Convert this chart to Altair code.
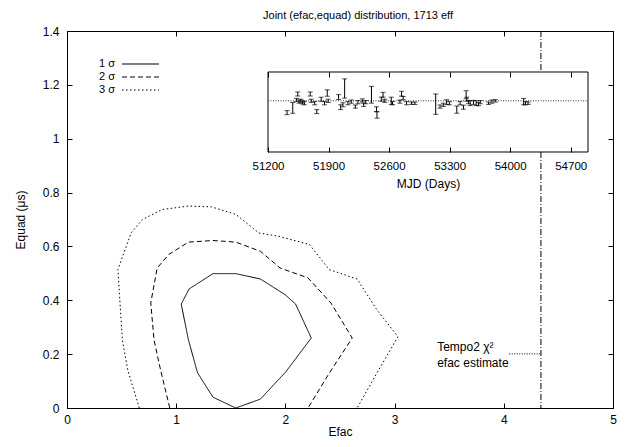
import altair as alt
import pandas as pd

FONT = "Liberation Sans"
TITLE = "Joint (efac,equad) distribution, 1713 eff"

# ---- main axes ----
X_TICKS = [0, 1, 2, 3, 4, 5]
Y_TICKS = [0, 0.2, 0.4, 0.6, 0.8, 1.0, 1.2, 1.4]
X_DOMAIN = [0, 5]
Y_DOMAIN = [0, 1.4]

# ---- contours (efac, equad) ----
c1_efac = [1.546, 1.771, 2.005, 2.237, 2.093, 1.997, 1.771, 1.546, 1.337, 1.118, 1.046, 1.112, 1.195, 1.337, 1.546]
c1_equad = [0.0, 0.033, 0.135, 0.26, 0.386, 0.421, 0.479, 0.499, 0.499, 0.442, 0.386, 0.253, 0.131, 0.04, 0.0]
c2_efac = [0.941, 0.857, 0.797, 0.767, 0.826, 0.932, 1.112, 1.337, 1.546, 1.771, 1.951, 2.207, 2.417, 2.612, 2.401, 2.207]
c2_equad = [0.0, 0.141, 0.253, 0.39, 0.52, 0.57, 0.616, 0.622, 0.616, 0.582, 0.52, 0.483, 0.39, 0.26, 0.129, 0.0]
c3_efac = [0.662, 0.556, 0.507, 0.466, 0.587, 0.691, 0.871, 1.112, 1.322, 1.546, 1.757, 1.937, 2.221, 2.401, 2.657, 2.837, 3.031, 2.837, 2.657]
c3_equad = [0.0, 0.141, 0.253, 0.514, 0.65, 0.7, 0.737, 0.75, 0.747, 0.719, 0.65, 0.638, 0.607, 0.514, 0.479, 0.365, 0.265, 0.129, 0.0]
LEVELS = ["1 σ", "2 σ", "3 σ"]
DASHES = [[1, 0], [5, 3], [1.5, 2.5]]

# ---- Tempo2 estimate ----
EFAC_ESTIMATE = 4.34
ANNOT_TEXT = "Tempo2 χ²\nefac estimate"
ANNOT_X, ANNOT_Y = 3.39, 0.227
CONNECT_X0, CONNECT_Y = 4.05, 0.201

# ---- inset: timing residuals ----
MJD_TICKS = [51200, 51900, 52600, 53300, 54000, 54700]
MJD_DOMAIN = [51200, 54900]
RES_DOMAIN = [-6.4, 3.6]
mjd = [51420, 51486, 51544, 51530, 51560, 51580, 51600, 51620, 51688, 51700, 51740, 51764,
       51815, 51853, 51885, 51895, 52016, 52040, 52066, 52086, 52124, 52163, 52210, 52240,
       52291, 52306, 52330, 52396, 52454, 52460, 52510, 52530, 52550, 52625, 52640, 52725,
       52744, 52763, 52802, 52860, 52899, 53139, 53189, 53227, 53266, 53297, 53383, 53421,
       53460, 53491, 53499, 53518, 53537, 53576, 53607, 53634, 53654, 53750, 53789, 53828,
       54156, 54176, 54207]
resid = [-1.48, -0.89, 0.85, 0.1, -0.1, 0.0, -0.2, -0.3, 0.85, 0.0, -0.3, -1.35,
         0.2, -0.3, 0.97, 0.0, 0.47, -0.8, -0.5, 1.54, -0.3, -0.1, -0.72, -0.17,
         0.04, -0.5, -0.17, 0.76, -1.05, -1.77, 0.2, 0.76, 0.0, 0.0, -0.3, -0.1,
         0.89, 0.34, -0.3, -0.3, -0.3, -0.42, -0.72, -0.5, -0.17, -0.3, -1.1, -0.3,
         -0.8, 0.76, 0.2, -0.17, -0.3, -0.2, -0.3, -0.42, -0.17, -0.3, -0.1, 0.0,
         -0.1, -0.3, -0.3]
err = [0.25, 0.67, 0.25, 0.2, 0.2, 0.2, 0.2, 0.2, 0.25, 0.2, 0.2, 0.25,
       0.25, 0.2, 0.4, 0.2, 0.3, 0.3, 0.25, 1.2, 0.2, 0.2, 0.2, 0.2,
       0.2, 0.2, 0.2, 1.05, 0.3, 0.4, 0.25, 0.3, 0.2, 0.45, 0.2, 0.2,
       0.3, 0.2, 0.2, 0.15, 0.15, 1.27, 0.2, 0.2, 0.3, 0.2, 0.45, 0.2,
       0.25, 0.5, 0.25, 0.2, 0.3, 0.25, 0.3, 0.2, 0.2, 0.15, 0.2, 0.15,
       0.4, 0.2, 0.15]

# ---- layout ----
W, H = 546, 377
INSET_X_RANGE = [201, 521]
INSET_Y_RANGE = [121, 41]
INWARD = {"expr": "-5"}

cont_rows = []
for lvl, xs, ys in zip(LEVELS, [c1_efac, c2_efac, c3_efac], [c1_equad, c2_equad, c3_equad]):
    for i, (a, b) in enumerate(zip(xs, ys)):
        cont_rows.append({"level": lvl, "i": i, "efac": a, "equad": b})
cont_df = pd.DataFrame(cont_rows)

res_df = pd.DataFrame({"mjd": mjd, "resid": resid, "err": err})
res_df["lo"] = res_df["resid"] - res_df["err"]
res_df["hi"] = res_df["resid"] + res_df["err"]

common = dict(grid=False, labelFont=FONT, titleFont=FONT, labelFontSize=12, titleFontSize=12,
              titleFontWeight="normal", tickColor="black", domainColor="black",
              labelColor="black", titleColor="black", tickSize=INWARD)

xscale = alt.Scale(domain=X_DOMAIN, nice=False, zero=False)
yscale = alt.Scale(domain=Y_DOMAIN, nice=False, zero=False)

contours = alt.Chart(cont_df).mark_line(color="black", strokeWidth=1).encode(
    x=alt.X("efac:Q", scale=xscale,
            axis=alt.Axis(values=X_TICKS, format="d", title="Efac", labelPadding=11,
                          titlePadding=1, labelFlush=False, **common)),
    y=alt.Y("equad:Q", scale=yscale,
            axis=alt.Axis(values=Y_TICKS, format="~g", title="Equad (μs)", labelPadding=13,
                          titlePadding=15, **common)),
    strokeDash=alt.StrokeDash("level:N", scale=alt.Scale(domain=LEVELS, range=DASHES), legend=None),
    order="i:Q",
)

est = alt.Chart(pd.DataFrame({"efac": [EFAC_ESTIMATE]})).mark_rule(
    color="black", strokeWidth=1, strokeDash=[6, 2, 1, 2]).encode(
    x=alt.X("efac:Q", axis=alt.Axis(orient="top", values=X_TICKS, labels=False, title=None, **common)),
)

conn = alt.Chart(pd.DataFrame({"x0": [CONNECT_X0], "x1": [EFAC_ESTIMATE], "y": [CONNECT_Y]})).mark_rule(
    color="black", strokeWidth=1, strokeDash=[1, 1.5]).encode(
    x=alt.X("x0:Q", axis=None), x2="x1",
    y=alt.Y("y:Q", axis=alt.Axis(orient="right", values=Y_TICKS, labels=False, title=None, **common)),
)

ann = alt.Chart(pd.DataFrame({"x": [ANNOT_X], "y": [ANNOT_Y], "t": [ANNOT_TEXT]})).mark_text(
    align="left", baseline="middle", lineBreak="\n", lineHeight=16, font=FONT, fontSize=12,
    color="black").encode(
    x=alt.X("x:Q", axis=None), y=alt.Y("y:Q", axis=None), text="t:N")

legend_layers = []
for k, (lvl, dash) in enumerate(zip(LEVELS, DASHES)):
    ypix = 33 + 13 * k
    legend_layers.append(
        alt.Chart(pd.DataFrame({"t": [lvl]})).mark_text(
            align="right", baseline="middle", font=FONT, fontSize=11, color="black").encode(
            x=alt.value(48), y=alt.value(ypix), text="t:N"))
    legend_layers.append(
        alt.Chart(pd.DataFrame({"t": [lvl]})).mark_rule(
            color="black", strokeWidth=1, strokeDash=dash).encode(
            x=alt.value(55), x2=alt.value(92), y=alt.value(ypix)))

main_group = alt.layer(contours, est, conn, ann, *legend_layers).resolve_axis(x="independent", y="independent")

ixscale = alt.Scale(domain=MJD_DOMAIN, range=INSET_X_RANGE, nice=False, zero=False)
iyscale = alt.Scale(domain=RES_DOMAIN, range=INSET_Y_RANGE, nice=False, zero=False)

frame = alt.Chart(pd.DataFrame({"x0": [MJD_DOMAIN[0]], "x1": [MJD_DOMAIN[1]],
                                "y0": [RES_DOMAIN[0]], "y1": [RES_DOMAIN[1]]})).mark_rect(
    fill="white", stroke="black", strokeWidth=1).encode(
    x=alt.X("x0:Q", scale=ixscale, axis=None), x2="x1",
    y=alt.Y("y0:Q", scale=iyscale, axis=None), y2="y1")

zero_line = alt.Chart(pd.DataFrame({"x0": [MJD_DOMAIN[0]], "x1": [MJD_DOMAIN[1]], "y": [0.0]})).mark_rule(
    color="#333", strokeWidth=1, strokeDash=[1, 1.5]).encode(
    x=alt.X("x0:Q", axis=None), x2="x1", y=alt.Y("y:Q", axis=None))

bars = alt.Chart(res_df).mark_rule(color="black", strokeWidth=1).encode(
    x=alt.X("mjd:Q", axis=alt.Axis(orient="bottom", offset=-256, values=MJD_TICKS, format="d",
                                   title="MJD (Days)", labelPadding=13, titlePadding=7,
                                   labelFlush=False, domain=False, zindex=1,
                                   **{**common, "labelFontSize": 11.5})),
    y=alt.Y("lo:Q", axis=None), y2="hi")

caps = alt.Chart(res_df).transform_fold(["lo", "hi"], as_=["k", "v"]).mark_tick(
    orient="horizontal", size=5, thickness=1, color="black").encode(
    x=alt.X("mjd:Q", axis=alt.Axis(orient="top", offset=-41, values=MJD_TICKS, labels=False,
                                   title=None, domain=False, zindex=1, **common)),
    y=alt.Y("v:Q", axis=None))

inset_group = alt.layer(frame, zero_line, bars, caps).resolve_axis(x="independent", y="independent")

chart = alt.layer(main_group, inset_group).resolve_scale(
    x="independent", y="independent"
).properties(
    width=W, height=H,
    title=alt.TitleParams(TITLE, font=FONT, fontSize=11, fontWeight="normal", color="black",
                          anchor="middle", dx=18, offset=4),
    padding={"left": 59, "top": 23, "right": 4, "bottom": 31},
    autosize=alt.AutoSizeParams(type="none"),
    background="white",
).configure_view(stroke="black", strokeWidth=1)

chart.save("out.html", embed_options={"renderer": "svg", "actions": False})
